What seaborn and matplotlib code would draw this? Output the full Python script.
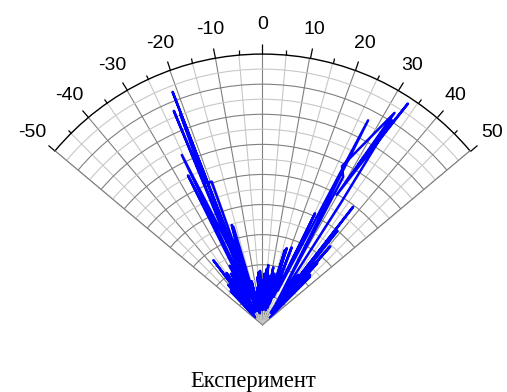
import numpy as np
import matplotlib
matplotlib.use("Agg")
import matplotlib.pyplot as plt
import seaborn as sns
from matplotlib.ticker import FixedLocator

# Data (angle in degrees, radius in grid units), polyline order as measured
theta_deg = [-45, -43, -42, -40.5, -39, -37.2, -36, -34.7, -33.5, -31.5, -30.5, -29, -28,
             -26.5, -25, -25.4, -23, -24, -22.5, -20.5, -21.1, -20.2, -21.3, -22.1, -19.5,
             -18.5, -17.1, -19.1, -16.5, -15.5, -14, -12.5, -11, -10, -8, -7, -6, -5, -4.5,
             -3.5, -3, -2.6, -1.5, -1, 0, 0.5, 1, 1.5, 2, 3, 4, 4.8, 5.5, 6.5, 7.2, 8, 9,
             10.6, 11.5, 13, 14.5, 16.7, 15.5, 17.5, 18.5, 20.6, 21.5, 25.2, 24, 27.3, 33,
             28.6, 26.6, 31.9, 29.7, 33.3, 30.9, 32.2, 32.7, 34, 35.6, 36, 37.5, 36.5, 38,
             37, 38.5, 38, 40.8, 39, 41.5, 40.5, 43.5, 42, 44.5, 45]
r_vals = [0.7, 3.1, 0.8, 3.5, 1.0, 5.4, 1.2, 4.2, 1.0, 4.0, 1.5, 4.5, 1.0,
          11.1, 3.0, 12.5, 5.5, 2.0, 15.4, 1.5, 16.6, 1.0, 15.0, 10.2, 10.1,
          1.0, 6.95, 4.6, 6.8, 1.0, 3.0, 0.8, 2.2, 1.0, 2.5, 1.0, 3.2, 1.2, 3.5,
          1.0, 2.6, 3.6, 1.0, 2.0, 2.8, 1.0, 3.0, 1.2, 3.4, 2.0, 3.7, 1.2, 4.0, 1.5, 3.3,
          3.0, 1.5, 3.9, 1.0, 3.5, 1.2, 5.2, 1.2, 5.35, 1.5, 5.5, 2.0, 8.2, 2.5, 15.3, 1.7,
          11.2, 11.8, 16.6, 9.95, 17.6, 12.4, 16.1, 9.7, 1.0, 4.1, 1.2, 9.9, 2.0, 6.75,
          1.0, 8.0, 1.5, 6.9, 1.5, 5.5, 1.2, 4.6, 1.0, 4.5, 0.7]
major_ang = list(range(-50, 51, 10))
minor_ang = list(range(-45, 46, 10))
tick_labels = [str(a) for a in major_ang]
title = "Експеримент"

sns.set_theme(style="white")
plt.rcParams['font.family'] = ['Liberation Sans', 'DejaVu Sans']

fig = plt.figure(figsize=(5.07, 3.92), dpi=100)
ax = fig.add_axes([0.1085, -0.0128, 0.8185, 1.0587], projection='polar')
ax.set_theta_zero_location('N')
ax.set_theta_direction(-1)
ax.set_thetamin(-50)
ax.set_thetamax(50)
ax.set_rlim(0, 18)

sns.lineplot(x=np.deg2rad(theta_deg), y=r_vals, ax=ax, sort=False, estimator=None,
             color='#0000ff', linewidth=1.8, zorder=5)

# angular grid
ax.set_xticks(np.deg2rad(major_ang))
ax.set_xticklabels(tick_labels, fontsize=14, color='black')
ax.xaxis.set_minor_locator(FixedLocator(np.deg2rad(minor_ang)))
ax.tick_params(axis='x', which='major', direction='out', length=7, width=0.9,
               color='black', pad=7, bottom=False, top=True)
ax.tick_params(axis='x', which='minor', direction='out', length=3.5, width=0.9,
               color='black', bottom=False, top=True)

# radial grid
ax.set_yticks(np.arange(2, 18, 2))
ax.yaxis.set_minor_locator(FixedLocator(np.arange(1, 18, 2)))
ax.set_yticklabels([])
ax.tick_params(axis='y', which='both', length=0)

ax.grid(True, which='major', color='#808080', linewidth=0.8)
ax.grid(True, which='minor', color='#c8c8c8', linewidth=0.8)
ax.set_axisbelow(True)

ax.spines['polar'].set_color('black')
ax.spines['polar'].set_linewidth(1.0)
ax.spines['start'].set_color('#808080')
ax.spines['end'].set_color('#808080')
ax.spines['start'].set_linewidth(0.8)
ax.spines['end'].set_linewidth(0.8)
ax.spines['inner'].set_visible(False)
ax.set_xlabel('')
ax.set_ylabel('')

fig.text(0.5, 5 / 392, title, ha='center', va='baseline', fontsize=16.3,
         color='black', family=['Liberation Serif', 'DejaVu Serif'])

fig.savefig('out.png', dpi=100)
